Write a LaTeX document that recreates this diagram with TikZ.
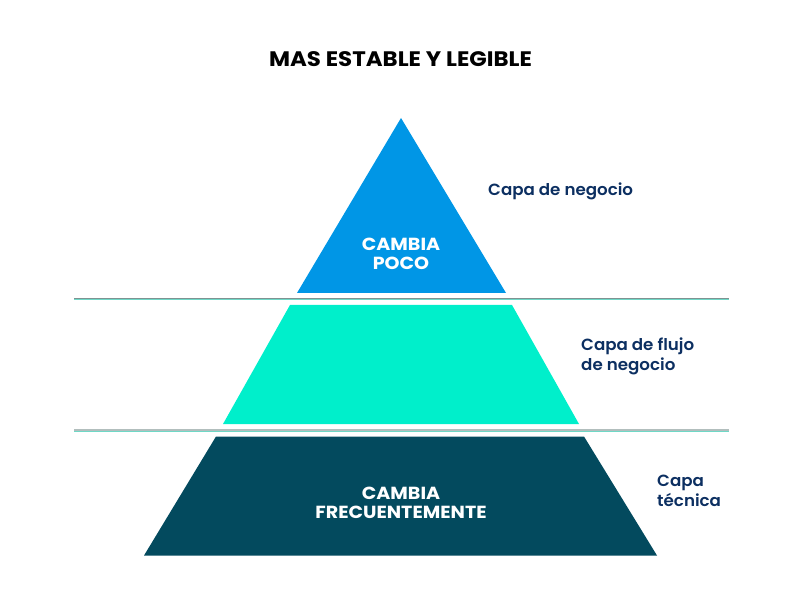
\documentclass[tikz,border=0pt]{standalone}
\usepackage{fontspec}
\setmainfont{Poppins}[BoldFont=Poppins SemiBold]
\newfontfamily\heavy{Poppins Bold}[FakeStretch=1.09]
\newfontfamily\sidefont{Poppins SemiBold}[FakeStretch=1.03]
\definecolor{topblue}{HTML}{0096E6}
\definecolor{midteal}{HTML}{00EFCB}
\definecolor{darkteal}{HTML}{034A5E}
\definecolor{navy}{HTML}{0C2F61}
\definecolor{linegray}{HTML}{7F9291}
\definecolor{lineteal}{HTML}{6FD8C6}
\begin{document}
\begin{tikzpicture}[x=1pt,y=-1pt,
  sep/.style={line width=1.1pt},
  inner/.style={text=white, font=\heavy\fontsize{17.5}{19}\selectfont, align=center, inner sep=0pt},
  side/.style={text=navy, font=\sidefont\fontsize{16.2}{20}\selectfont, align=left, anchor=west, inner sep=0pt},
  title/.style={text=black, font=\heavy\fontsize{21}{22}\selectfont, inner sep=0pt}]
\useasboundingbox (0,0) rectangle (800,601);
% layers
\fill[topblue] (401,118) -- (506,293) -- (297,293) -- cycle;
\fill[midteal] (290,305) -- (512,305) -- (579,424) -- (223,424) -- cycle;
\fill[darkteal] (216,436.5) -- (584,436.5) -- (657,555.5) -- (144,555.5) -- cycle;
% separators
\coordinate (l1a) at (74,298.4); \coordinate (l1b) at (729,298.4);
\coordinate (l1c) at (74,299.7); \coordinate (l1d) at (729,299.7);
\draw[sep,linegray] (l1a) -- (l1b);
\draw[sep,lineteal] (l1c) -- (l1d);
\coordinate (l2a) at (74,430.0); \coordinate (l2b) at (729,430.0);
\coordinate (l2c) at (74,431.3); \coordinate (l2d) at (729,431.3);
\draw[sep,linegray!60] (l2a) -- (l2b);
\draw[sep,lineteal] (l2c) -- (l2d);
% texts
\node[title] (t) at (400.5,59) {MAS ESTABLE Y LEGIBLE};
\node[inner] (p1) at (401,253.5) {CAMBIA\\POCO};
\node[inner] (p3) at (401,503) {CAMBIA\\FRECUENTEMENTE};
\node[side] (s1) at (488,191.5) {Capa de negocio};
\node[side] (s2) at (581,356) {Capa de flujo\\de negocio};
\node[side] (s3) at (657,490.5) {Capa\\técnica};
\end{tikzpicture}
\end{document}
